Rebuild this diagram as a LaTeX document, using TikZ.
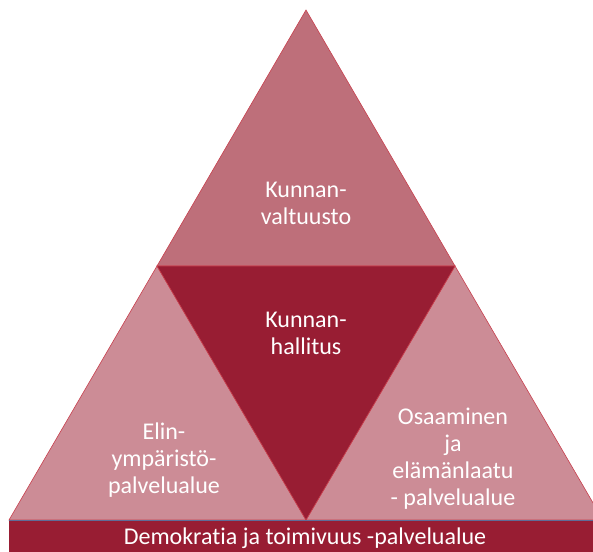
\documentclass[tikz,border=0pt]{standalone}
\usepackage{fontspec}
\setmainfont[Ligatures=NoCommon]{Carlito}
\definecolor{topred}{HTML}{BE6F7A}
\definecolor{midred}{HTML}{981D33}
\definecolor{sidered}{HTML}{CC8C96}
\definecolor{edgered}{HTML}{C8404E}
\definecolor{barline}{HTML}{5E6C98}
\begin{document}
\begin{tikzpicture}[
x=1pt,y=-1pt,
part/.style={draw=edgered,line width=0.6pt,line join=miter},
label/.style={text=white,align=center,font=\fontsize{24}{27}\selectfont,inner sep=0pt}
]
\clip (0,0) rectangle (593,551);
\coordinate (A) at (306,10);
\coordinate (L) at (157,266);
\coordinate (R) at (455,266);
\coordinate (BL) at (9,520);
\coordinate (BC) at (306,520);
\coordinate (BR) at (603,520);
% triangles
\filldraw[part,fill=topred] (A) -- (R) -- (L) -- cycle;
\filldraw[part,fill=sidered] (L) -- (BC) -- (BL) -- cycle;
\filldraw[part,fill=sidered] (R) -- (BR) -- (BC) -- cycle;
\filldraw[part,fill=midred] (L) -- (R) -- (BC) -- cycle;
% bottom bar
\fill[midred] (9,520) rectangle (620,560);
\draw[barline,line width=0.8pt] (9,520) -- (620,520);
\node[label] (valtuusto) at (306,203) {Kunnan-\\valtuusto};
\node[label] (hallitus) at (306,333) {Kunnan-\\hallitus};
\node[label] (elin) at (164,460) {Elin-\\ympäristö-\\palvelualue};
\node[label] (osaaminen) at (453,459) {Osaaminen\\ja\\elämänlaatu\\- palvelualue};
\node[label] (demokratia) at (305,538) {Demokratia ja toimivuus -palvelualue};
\end{tikzpicture}
\end{document}
